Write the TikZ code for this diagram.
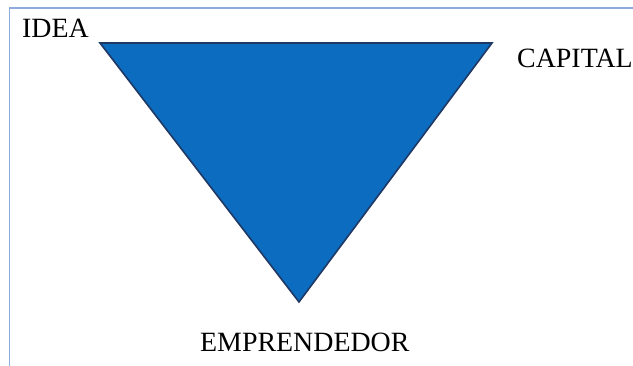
\documentclass[tikz,border=0pt]{standalone}
\usepackage{fontspec}
\setmainfont{Liberation Serif}
\definecolor{triblue}{HTML}{0B6CC0}
\definecolor{triedge}{HTML}{1F3864}
\definecolor{frameblue}{HTML}{8FAADC}
\begin{document}
\begin{tikzpicture}[x=1pt,y=1pt,
  lbl/.style={font=\fontsize{27.9}{30}\selectfont, inner sep=0pt, anchor=base west}]
\useasboundingbox (0,0) rectangle (633,366);
% frame
\draw[frameblue, line width=1.3pt] (9.5,0) -- (9.5,358) -- (633,358);
% triangle
\coordinate (tl) at (100,323);
\coordinate (tr) at (492,323);
\coordinate (bt) at (299,64);
\filldraw[fill=triblue, draw=triedge, line width=1.6pt, line join=miter] (tl) -- (tr) -- (bt) -- cycle;
% labels
\node[lbl] (idea) at (22,328) {IDEA};
\node[lbl] (capital) at (517,298) {CAPITAL};
\node[lbl] (empr) at (200,14) {EMPRENDEDOR};
\end{tikzpicture}
\end{document}
